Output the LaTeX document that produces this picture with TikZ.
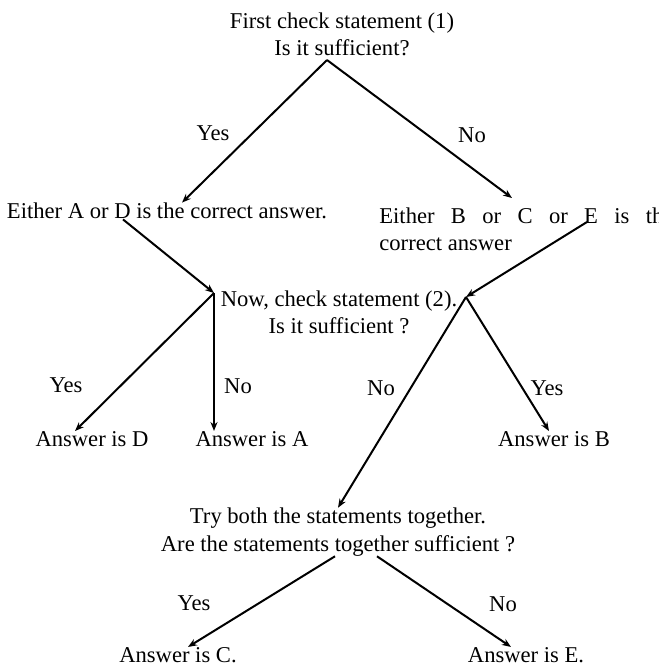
\documentclass[tikz,border=0pt]{standalone}
\usepackage{fontspec}
\setmainfont{Liberation Serif}
\usetikzlibrary{positioning,arrows.meta}

\begin{document}
\begin{tikzpicture}[x=0.5pt,y=-0.5pt,>={Stealth[length=4.5pt,width=3.5pt]},
  every node/.style={font=\fontsize{11.3}{13.6}\selectfont,inner sep=0pt},
  box/.style={align=center},
  link/.style={->,line width=1pt}]
\useasboundingbox (0,0) rectangle (659,666);
\clip (0,0) rectangle (659,666);
\fill[white] (0,0) rectangle (659,666);
% statement (1)
\node[box] (q1) at (342,34) {First check statement (1)\\Is it sufficient?};
\coordinate (s1) at (327,60);
\node (ad) at (167,211) {Either A or D is the correct answer.};
\node[align=left,anchor=north west] (bce) at (379,207) {\makebox[147pt][s]{Either B or C or E is the}\\correct answer};
\draw[link] (s1) -- ([xshift=7.5pt]ad.north);
\draw[link] (s1) -- ([shift={(66.5pt,4.5pt)}]bce.north west);
\node (yes1) at (213,133) {Yes};
\node (no1) at (472,135) {No};
% statement (2)
\node[box] (q2) at (339,312) {Now, check statement (2).\\Is it sufficient ?};
\coordinate (s2) at (214,293);
\coordinate (s3) at (466,297);
\draw[link] ([xshift=-22pt]ad.south) -- (s2);
\draw[link] ([shift={(104pt,-7.5pt)}]bce.north west) -- (s3);
\node (ansD) at (92,439) {Answer is D};
\node (ansA) at (252,439) {Answer is A};
\node (ansB) at (554,439) {Answer is B};
\draw[link] (s2) -- ([xshift=-8.5pt]ansD.north);
\draw[link] (s2) -- (s2 |- ansA.north);
\draw[link] (s3) -- ([xshift=-2.5pt]ansB.north);
\node (yes2) at (66,385) {Yes};
\node (no2) at (238,386) {No};
\node (no3) at (381,388) {No};
\node (yes3) at (547,388) {Yes};
% both together
\node[box] (q3) at (338,532) {Try both the statements together.\\Are the statements together sufficient ?};
\draw[link] (s3) -- (q3.north);
\node (ansC) at (178,655) {Answer is C.};
\node (ansE) at (526,655) {Answer is E.};
\draw[link] ([xshift=-1.5pt]q3.south) -- ([xshift=5pt]ansC.north);
\draw[link] ([xshift=19.5pt]q3.south) -- ([xshift=-7.5pt]ansE.north);
\node (yes4) at (194,603) {Yes};
\node (no4) at (503,604) {No};
\end{tikzpicture}
\end{document}
